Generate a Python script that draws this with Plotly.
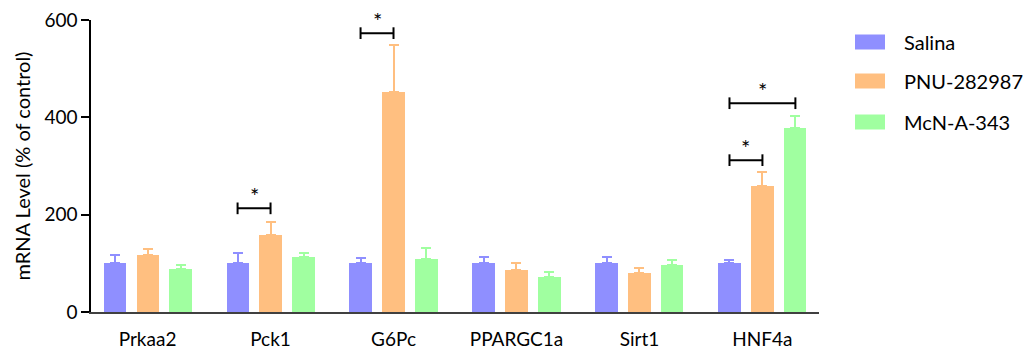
import plotly.graph_objects as go
import numpy as np

categories = ["Prkaa2", "Pck1", "G6Pc", "PPARGC1a", "Sirt1", "HNF4a"]
series_names = ["Salina", "PNU-282987", "McN-A-343"]
colors = ["#8F8FFF", "#FFBF80", "#A0FFA0"]

salina = [100, 100, 100, 100, 100, 100]
salina_err = [17, 21, 11, 13, 13, 6]
pnu = [117, 158, 452, 86, 80, 259]
pnu_err = [13, 27, 97, 14, 11, 29]
mcn = [88, 113, 109, 72, 96, 378]
mcn_err = [8, 8, 23, 10, 11, 25]

# significance brackets: (category index, from series, to series, y level)
brackets_cat = [1, 2, 5, 5]
brackets_from = [0, 0, 0, 0]
brackets_to = [1, 1, 1, 2]
brackets_y = [213, 573, 312, 429]

values = [salina, pnu, mcn]
errors = [salina_err, pnu_err, mcn_err]

offsets = [-0.268, 0.0, 0.268]
bar_w = 0.18

# page body has an 8px margin; figure coordinates are offset by it
OFF = 8
W, H = 1035 - OFF, 350 - OFF
L, T = 91 - OFF, 20 - OFF
plot_right, plot_bottom = 819 - OFF, 312 - OFF
R, B = W - plot_right, H - plot_bottom
plot_w = W - L - R
plot_h = H - T - B

fig = go.Figure()
xs = np.arange(len(categories))
for k in range(3):
    fig.add_trace(go.Bar(
        x=xs + offsets[k], y=values[k], width=bar_w, name=series_names[k],
        marker=dict(color=colors[k], line=dict(width=0)),
        error_y=dict(type="data", array=errors[k], arrayminus=[0]*len(categories),
                     symmetric=False, color=colors[k], thickness=2, width=5),
        showlegend=False,
    ))

shapes = []
annotations = []
for c, a, b, yv in zip(brackets_cat, brackets_from, brackets_to, brackets_y):
    x0 = c + offsets[a]
    x1 = c + offsets[b]
    line = dict(color="black", width=2)
    shapes.append(dict(type="line", xref="x", yref="y", x0=x0, x1=x1, y0=yv, y1=yv, line=line))
    for xx in (x0, x1):
        shapes.append(dict(type="line", xref="x", yref="y", x0=xx, x1=xx,
                           y0=yv - 12, y1=yv + 12, line=line))
    annotations.append(dict(x=(x0 + x1) / 2, y=yv, xref="x", yref="y", text="*",
                            showarrow=False, yanchor="bottom", yshift=-3,
                            font=dict(size=22, color="black")))

# legend entries as paper-referenced shapes and annotations
leg_y = [42 - OFF, 81 - OFF, 122 - OFF]
for k in range(3):
    yc = (plot_bottom - leg_y[k]) / plot_h
    hh = 7.5 / plot_h
    shapes.append(dict(type="rect", xref="paper", yref="paper",
                       x0=(855 - OFF - L) / plot_w, x1=(885 - OFF - L) / plot_w,
                       y0=yc - hh, y1=yc + hh, line=dict(width=0), fillcolor=colors[k]))
    annotations.append(dict(x=(902 - OFF - L) / plot_w, y=yc, xref="paper", yref="paper",
                            text=series_names[k], showarrow=False, xanchor="left",
                            yanchor="middle", font=dict(size=20, color="black")))

fig.update_layout(
    width=W, height=H,
    margin=dict(l=L, r=R, t=T, b=B),
    plot_bgcolor="white", paper_bgcolor="white",
    font=dict(family="Lato", size=18, color="black"),
    bargap=0,
    xaxis=dict(range=[-0.46, 5.46], tickvals=list(xs), ticktext=categories,
               showline=True, linecolor="#404040", linewidth=2, ticks="",
               showgrid=False, zeroline=False, tickfont=dict(size=19),
               ticklabelstandoff=9, ticklabeloverflow="allow",
               automargin=False, fixedrange=True),
    yaxis=dict(range=[0, 600], tickvals=[0, 200, 400, 600], showline=True,
               linecolor="black", linewidth=1.5, ticks="outside", ticklen=8,
               tickwidth=1.5, tickcolor="black", showgrid=False, zeroline=False,
               tickfont=dict(size=19), ticklabeloverflow="allow", automargin=False,
               title=dict(text="mRNA Level (% of control)", font=dict(size=20), standoff=8)),
    shapes=shapes, annotations=annotations,
)

fig.write_html("out.html")
